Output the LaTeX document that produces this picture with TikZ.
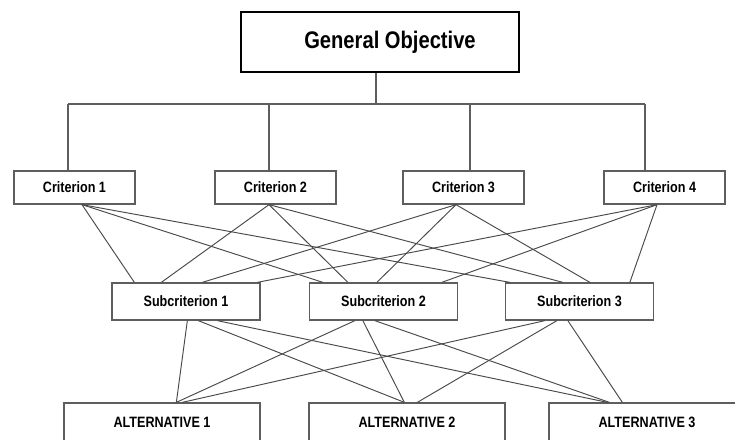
\documentclass[tikz,border=0pt]{standalone}
\usepackage{fontspec}
\newfontfamily\narrowsans{Liberation Sans}[FakeStretch=0.84]
\definecolor{boxgray}{HTML}{5E5E5E}
\definecolor{linkgray}{HTML}{4A4A4A}
\begin{document}
\begin{tikzpicture}[x=1pt,y=-1pt,
  box/.style={draw=boxgray,line width=1.3pt,fill=white,inner sep=0pt,
    font=\narrowsans\bfseries\fontsize{15}{18}\selectfont},
  crit/.style={box,minimum width=121pt,minimum height=33pt},
  sub/.style={box,minimum width=148pt,minimum height=37pt},
  alt/.style={box,minimum width=196pt,minimum height=38pt},
  goalbox/.style={draw=black,line width=2pt,fill=white,inner sep=0pt,
    minimum width=278pt,minimum height=60pt,
    font=\narrowsans\bfseries\fontsize{24}{28}\selectfont},
  link/.style={draw=linkgray,line width=0.95pt},
  tree/.style={draw=boxgray,line width=1.2pt}]
\useasboundingbox (0,0) rectangle (735,439);
\clip (0,0) rectangle (735,439);
\fill[white] (0,0) rectangle (735,439);

% levels
\node[goalbox] (goal) at (380,42) {\hspace*{20pt}General Objective};

\node[crit] (c1) at (74.5,187.5) {Criterion 1};
\node[crit] (c2) at (275.5,187.5) {Criterion 2};
\node[crit] (c3) at (463.5,187.5) {Criterion 3};
\node[crit] (c4) at (664.5,187.5) {Criterion 4};

\node[sub] (s1) at (186,301.5) {Subcriterion 1};
\node[sub] (s2) at (383.5,301.5) {Subcriterion 2};
\node[sub] (s3) at (579.5,301.5) {Subcriterion 3};

\node[alt] (a1) at (162,422) {ALTERNATIVE 1};
\node[alt] (a2) at (407,422) {ALTERNATIVE 2};
\node[alt] (a3) at (647,422) {ALTERNATIVE 3};

% tree from the objective to the criteria
\coordinate (bus) at (376,104);
\draw[tree] ([xshift=-4pt]goal.south) -- ([xshift=-4pt]goal.south |- bus);
\draw[tree] ([xshift=-6.5pt]c1.north |- bus) -- ([xshift=-19.5pt]c4.north |- bus);
\foreach \c/\o in {c1/-6.5,c2/-6.5,c3/6.5,c4/-19.5}
  \draw[tree] ([xshift=\o pt]\c.north) -- ([xshift=\o pt]\c.north |- bus);

% criteria to subcriteria
\foreach \s/\a/\d/\b in {
  c1/7.5/s1/23, c1/7.5/s2/14, c1/7.5/s3/5,
  c2/-6.5/s1/50, c2/-6.5/s2/39, c2/-6.5/s3/58,
  c3/-7.5/s1/91, c3/-7.5/s2/68, c3/-7.5/s3/85,
  c4/-7.5/s1/146, c4/-7.5/s2/133, c4/-7.5/s3/125}
  \draw[link] ([xshift=\a pt]\s.south) -- ([xshift=\b pt]\d.north west);

% subcriteria to alternatives
\foreach \s/\a/\d/\b in {
  s1/76/a1/113, s1/87/a2/96, s1/106/a3/59,
  s2/46/a1/113, s2/54/a2/96, s2/66/a3/61,
  s3/40/a1/119, s3/52/a2/109, s3/63/a3/74}
  \draw[link] ([xshift=\a pt]\s.south west) -- ([xshift=\b pt]\d.north west);
\end{tikzpicture}
\end{document}
